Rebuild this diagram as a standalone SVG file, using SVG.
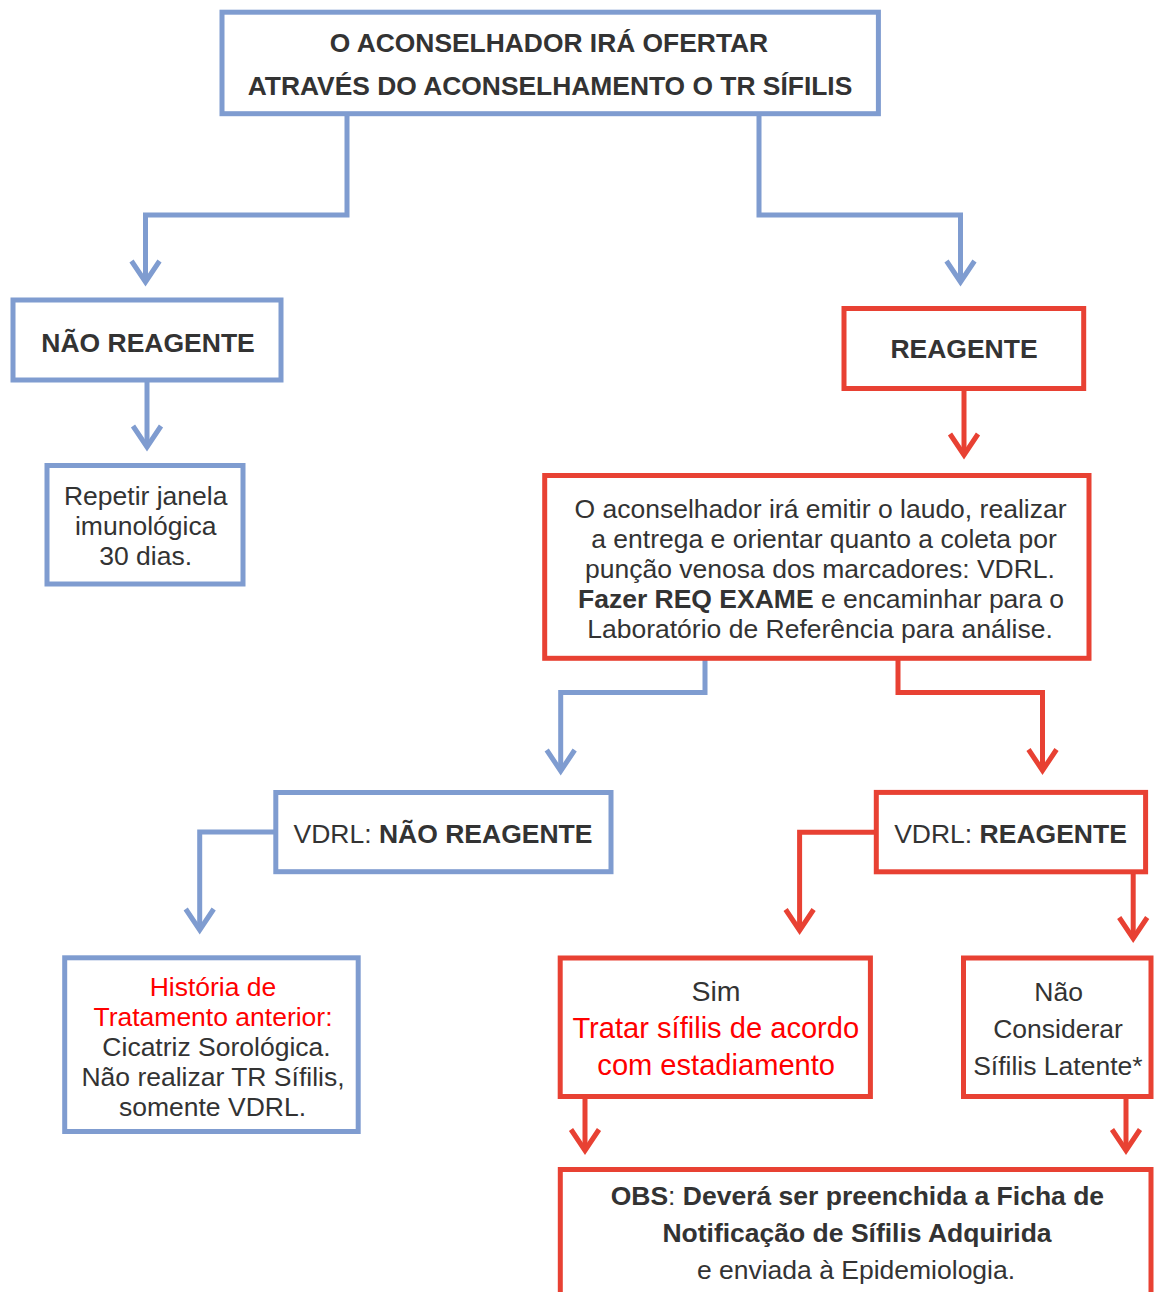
<svg xmlns="http://www.w3.org/2000/svg" width="1154" height="1292" viewBox="0 0 1154 1292">
<style>
text{font-family:"Liberation Sans",Arial,sans-serif;font-size:26.5px;fill:#333333;text-anchor:middle}
.b{font-weight:bold}
.n{font-weight:normal}
.r{fill:#ff0000}
.nb{fill:#ffffff;stroke:#7f9cd0;stroke-width:5}
.nr{fill:#ffffff;stroke:#e84133;stroke-width:5}
.cb{fill:none;stroke:#7f9cd0;stroke-width:5;marker-end:url(#ab)}
.cr{fill:none;stroke:#e84133;stroke-width:5;marker-end:url(#ar)}
</style>
<defs>
<marker id="ab" markerUnits="userSpaceOnUse" viewBox="-30 -20 40 40" markerWidth="40" markerHeight="40" refX="0" refY="0" orient="auto">
<path d="M-21,-14 L0,0 L-21,14" fill="none" stroke="#7f9cd0" stroke-width="5"/>
</marker>
<marker id="ar" markerUnits="userSpaceOnUse" viewBox="-30 -20 40 40" markerWidth="40" markerHeight="40" refX="0" refY="0" orient="auto">
<path d="M-21,-14 L0,0 L-21,14" fill="none" stroke="#e84133" stroke-width="5"/>
</marker>
</defs>
<rect width="1154" height="1292" fill="#ffffff"/>
<g id="connectors">
<path class="cb" d="M347,114 V215 H145.5 V282"/>
<path class="cb" d="M759,114 V215 H960.5 V282"/>
<path class="cb" d="M147,380 V447"/>
<path class="cr" d="M964,388 V455"/>
<path class="cb" d="M705,658 V692.5 H560.7 V771"/>
<path class="cr" d="M898,658 V692.5 H1042.5 V770.5"/>
<path class="cb" d="M275.8,832 H199.7 V930"/>
<path class="cr" d="M876.3,832.3 H799.6 V930.5"/>
<path class="cr" d="M1133.2,871.8 V938.5"/>
<path class="cr" d="M585,1096 V1150.5"/>
<path class="cr" d="M1126,1096 V1150.5"/>
</g>
<g id="top">
<rect class="nb" x="222" y="12.2" width="656.4" height="101.5"/>
<text class="b" x="549" y="52" style="font-size:26.4px">O ACONSELHADOR IRÁ OFERTAR</text>
<text class="b" x="550" y="95" style="font-size:26.4px">ATRAVÉS DO ACONSELHAMENTO O TR SÍFILIS</text>
</g>
<g id="nao-reagente">
<rect class="nb" x="13" y="300" width="268" height="80"/>
<text class="b" x="148" y="352">NÃO REAGENTE</text>
</g>
<g id="repetir">
<rect class="nb" x="47" y="465.5" width="196" height="118.5"/>
<text x="145.7" y="505">Repetir janela</text>
<text x="145.7" y="535">imunológica</text>
<text x="145.7" y="565">30 dias.</text>
</g>
<g id="reagente">
<rect class="nr" x="844" y="308.5" width="239.7" height="80"/>
<text class="b" x="964" y="358.3">REAGENTE</text>
</g>
<g id="laudo">
<rect class="nr" x="544.7" y="475.5" width="544.3" height="182.8"/>
<text x="820.5" y="518.3">O aconselhador irá emitir o laudo, realizar</text>
<text x="824" y="548">a entrega e orientar quanto a coleta por</text>
<text x="820" y="578">punção venosa dos marcadores: VDRL.</text>
<text x="821" y="608"><tspan class="b">Fazer REQ EXAME</tspan> e encaminhar para o</text>
<text x="820" y="638">Laboratório de Referência para análise.</text>
</g>
<g id="vdrl-nao-reagente">
<rect class="nb" x="275.8" y="792.5" width="335.2" height="79.2"/>
<text x="443" y="843">VDRL: <tspan class="b">NÃO REAGENTE</tspan></text>
</g>
<g id="vdrl-reagente">
<rect class="nr" x="876.3" y="792.4" width="269.3" height="79.4"/>
<text x="1010.5" y="842.5">VDRL: <tspan class="b">REAGENTE</tspan></text>
</g>
<g id="historia">
<rect class="nb" x="64.7" y="957.8" width="293.5" height="173.7"/>
<text class="r" x="213" y="995.5">História de</text>
<text class="r" x="213" y="1025.5">Tratamento anterior:</text>
<text x="216.5" y="1055.5">Cicatriz Sorológica.</text>
<text x="213" y="1085.5">Não realizar TR Sífilis,</text>
<text x="212.5" y="1115.5">somente VDRL.</text>
</g>
<g id="sim">
<rect class="nr" x="560.2" y="958" width="310.2" height="138.5"/>
<text x="716" y="1000.9" style="font-size:28.5px">Sim</text>
<text class="r" x="715.8" y="1038.3" style="font-size:29.1px">Tratar sífilis de acordo</text>
<text class="r" x="716.2" y="1074.9" style="font-size:29.1px">com estadiamento</text>
</g>
<g id="nao">
<rect class="nr" x="963.5" y="958" width="187.5" height="138.5"/>
<text x="1058.6" y="1001">Não</text>
<text x="1058" y="1038.3">Considerar</text>
<text x="1057.9" y="1074.9">Sífilis Latente*</text>
</g>
<g id="obs">
<rect class="nr" x="560.3" y="1169.5" width="590.7" height="200"/>
<text class="b" x="857.4" y="1204.5">OBS<tspan class="n">:</tspan> Deverá ser preenchida a Ficha de</text>
<text class="b" x="857" y="1241.8">Notificação de Sífilis Adquirida</text>
<text x="856" y="1279.2">e enviada à Epidemiologia.</text>
</g>
</svg>
